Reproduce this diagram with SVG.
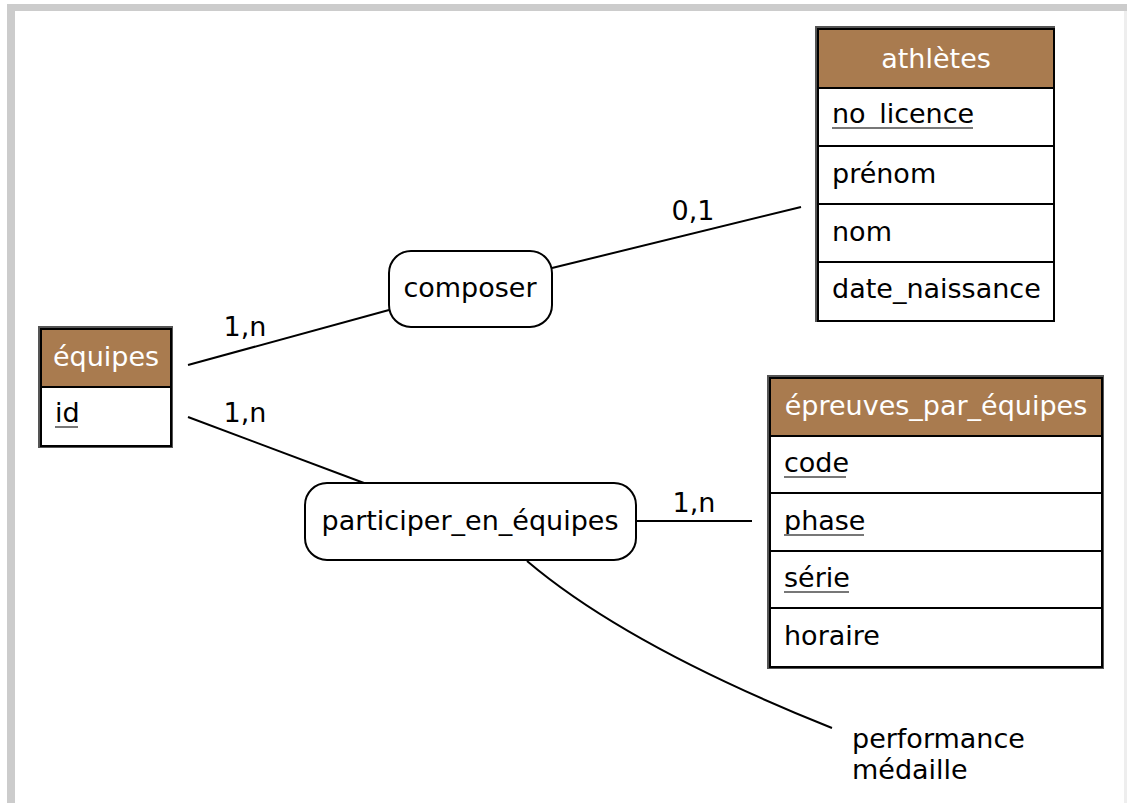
<svg xmlns="http://www.w3.org/2000/svg" width="1127" height="803" viewBox="0 0 1127 803">
<style>
text{font-family:"DejaVu Sans","Liberation Sans",sans-serif;font-size:27px;fill:#000}
.hd{fill:#fff;text-anchor:middle}
.c{text-anchor:middle}
.box{fill:#fff;stroke:#000;stroke-width:2}
.shadow{fill:none;stroke:#555;stroke-width:4}
.head{fill:#a97b4f;stroke:#000;stroke-width:2}
.sep{stroke:#000;stroke-width:2}
.ul{stroke:#777;stroke-width:2}
.rel{fill:#fff;stroke:#000;stroke-width:2}
.conn{fill:none;stroke:#000;stroke-width:2}
</style>
<rect x="0" y="0" width="1127" height="803" fill="#fff"/>
<rect x="7" y="4" width="1120" height="7" fill="#cccccc"/>
<rect x="7" y="4" width="8" height="799" fill="#cccccc"/>
<rect x="1124" y="11" width="3" height="792" fill="#eeeeee"/>

<g id="connectors">
<line class="conn" x1="188" y1="365" x2="389" y2="310"/>
<line class="conn" x1="552" y1="268" x2="801" y2="207"/>
<line class="conn" x1="188" y1="417" x2="364" y2="483"/>
<line class="conn" x1="636" y1="521" x2="752" y2="521"/>
<path class="conn" d="M527,561 Q627,646 832,728"/>
<text x="245" y="336" class="c">1,n</text>
<text x="245" y="422" class="c">1,n</text>
<text x="693" y="220" class="c">0,1</text>
<text x="694" y="512" class="c">1,n</text>
</g>

<g id="athletes">
<rect class="shadow" x="817" y="28" width="236" height="292"/>
<rect class="box" x="818" y="29" width="236" height="292"/>
<rect class="head" x="818" y="29" width="236" height="59"/>
<line class="sep" x1="818" y1="146" x2="1054" y2="146"/>
<line class="sep" x1="818" y1="204" x2="1054" y2="204"/>
<line class="sep" x1="818" y1="262" x2="1054" y2="262"/>
<text x="936" y="68" class="hd">athlètes</text>
<text x="832" y="123">no_licence</text>
<line class="ul" x1="832" y1="128" x2="973" y2="128"/>
<text x="832" y="183">prénom</text>
<text x="832" y="241">nom</text>
<text x="832" y="298">date_naissance</text>
</g>

<g id="equipes">
<rect class="shadow" x="40" y="328" width="131" height="118"/>
<rect class="box" x="41" y="329" width="130" height="117"/>
<rect class="head" x="41" y="329" width="130" height="58"/>
<text x="106" y="366" class="hd">équipes</text>
<text x="55" y="422">id</text>
<line class="ul" x1="55" y1="427" x2="78" y2="427"/>
</g>

<g id="epreuves">
<rect class="shadow" x="769" y="377" width="333" height="290"/>
<rect class="box" x="770" y="378" width="332" height="289"/>
<rect class="head" x="770" y="378" width="332" height="58"/>
<line class="sep" x1="770" y1="493" x2="1102" y2="493"/>
<line class="sep" x1="770" y1="551" x2="1102" y2="551"/>
<line class="sep" x1="770" y1="608" x2="1102" y2="608"/>
<text x="936" y="415" class="hd">épreuves_par_équipes</text>
<text x="784" y="472">code</text>
<line class="ul" x1="784" y1="477" x2="846" y2="477"/>
<text x="784" y="530">phase</text>
<line class="ul" x1="784" y1="535" x2="864" y2="535"/>
<text x="784" y="587">série</text>
<line class="ul" x1="784" y1="592" x2="849" y2="592"/>
<text x="784" y="645">horaire</text>
</g>

<g id="composer">
<rect class="rel" x="389" y="251" width="163" height="76" rx="22"/>
<text x="470" y="297" class="c">composer</text>
</g>

<g id="participer">
<rect class="rel" x="305" y="483" width="331" height="77" rx="22"/>
<text x="470" y="530" class="c">participer_en_équipes</text>
</g>

<g id="attributs">
<text x="852" y="748">performance</text>
<text x="852" y="779">médaille</text>
</g>
</svg>
